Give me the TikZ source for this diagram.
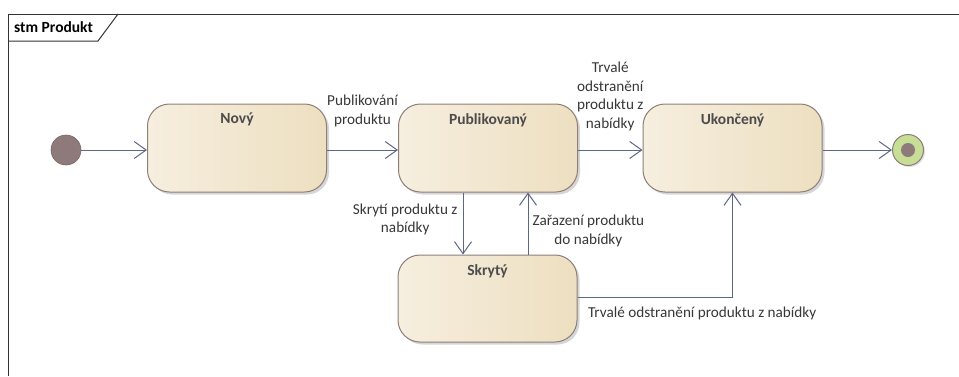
\documentclass[tikz,border=0pt]{standalone}
\usepackage{fontspec}
\setmainfont{Carlito}
\usetikzlibrary{arrows.meta,shadows}

\definecolor{stateL}{HTML}{F6EEDF}
\definecolor{stateR}{HTML}{EDDFC0}
\definecolor{stateEdge}{HTML}{8F7E78}
\definecolor{wire}{HTML}{5C6784}
\definecolor{txt}{HTML}{383838}
\definecolor{pseudo}{HTML}{8E7A7A}
\definecolor{finalFill}{HTML}{C6DE95}

\tikzset{
  state/.style={rectangle, rounded corners=22pt, draw=stateEdge, line width=1pt,
    left color=stateL, right color=stateR, minimum width=179pt, minimum height=88pt,
    inner sep=0pt,
    drop shadow={shadow xshift=2.5pt, shadow yshift=-2.5pt, fill=black!35, opacity=.45}},
  title/.style={font=\fontsize{15.5pt}{18pt}\selectfont\bfseries, text=txt!90!white, inner sep=0pt},
  lbl/.style={font=\fontsize{15.2pt}{18.5pt}\selectfont, text=txt, align=center, inner sep=0pt},
  flow/.style={draw=wire, line width=1pt, -{Straight Barb[length=12pt,width=17pt,line width=1pt]}},
  initst/.style={circle, fill=pseudo, draw=pseudo!85!black, line width=0.6pt, minimum size=30pt, inner sep=0pt},
  finalst/.style={circle, fill=finalFill, draw=stateEdge, line width=1pt, minimum size=31pt, inner sep=0pt,
    drop shadow={shadow xshift=1.5pt, shadow yshift=-1.5pt, fill=black!30, opacity=.4}},
  finaldot/.style={circle, fill=pseudo, minimum size=14pt, inner sep=0pt},
}

\begin{document}
\begin{tikzpicture}[x=1pt, y=-1pt]
  \useasboundingbox (0,0) rectangle (959,376);
  \fill[white] (0,0) rectangle (959,376);

  % diagram frame with its name tab
  \draw[black!80, line width=1pt] (959,14) -- (8,14) -- (8,376);
  \draw[black!80, line width=1pt] (8,41) -- (98,41) -- (118,14);
  \node[font=\fontsize{15.5pt}{18pt}\selectfont\bfseries, anchor=west, inner sep=0pt] (frametitle) at (14,27.5) {stm Produkt};

  % states
  \node[state, label={[title, anchor=north, yshift=-9.5pt]north:Nový}] (nov) at (237,148) {};
  \node[state, label={[title, anchor=north, yshift=-9.5pt]north:Publikovaný}] (pub) at (488,148) {};
  \node[state, label={[title, anchor=north, yshift=-9.5pt]north:Ukončený}] (uko) at (732.5,148) {};
  \node[state, minimum height=87pt, label={[title, anchor=north, yshift=-9.5pt]north:Skrytý}] (skr) at (487.5,298.5) {};

  % pseudostates
  \node[initst] (init) at (66,150) {};
  \node[finalst] (fin) at (908,150) {};
  \node[finaldot] (findot) at (fin.center) {};

  % transitions
  \draw[flow] (init.east) -- (nov.west |- init);
  \draw[flow] (nov.east |- init) -- node[lbl, anchor=south, yshift=23pt] {Publikování\\produktu} (pub.west |- init);
  \draw[flow] (pub.east |- init) -- node[lbl, anchor=south, yshift=19pt] {Trvalé\\odstranění\\produktu z\\nabídky} (uko.west |- init);
  \draw[flow] (uko.east |- fin) -- (fin.west);

  \draw[flow] ([xshift=-25pt]pub.south) -- node[lbl, pos=0.17, anchor=north east, xshift=-5pt] {Skrytí produktu z\\nabídky} ([xshift=-25pt]pub.south |- skr.north);
  \draw[flow] ([xshift=40pt]pub.south |- skr.north) -- node[lbl, pos=0.64, anchor=north west, xshift=4pt] {Zařazení produktu\\do nabídky} ([xshift=40pt]pub.south);
  \draw[flow] ([yshift=1.5pt]skr.east) -| node[lbl, pos=0, anchor=north west, xshift=10pt, yshift=-9pt] {Trvalé odstranění produktu z nabídky} (uko.south);
\end{tikzpicture}
\end{document}
